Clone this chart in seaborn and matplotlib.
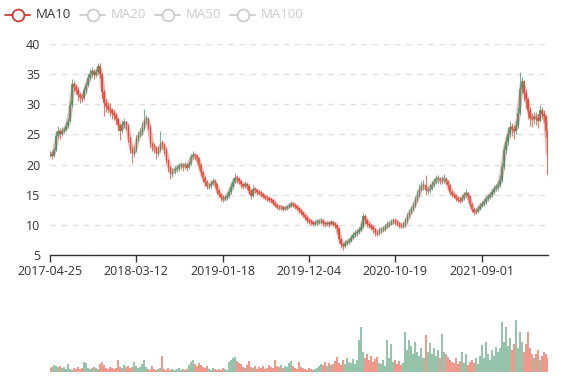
import numpy as np
import pandas as pd
import matplotlib
matplotlib.use("Agg")
import matplotlib.pyplot as plt
from matplotlib.lines import Line2D
import seaborn as sns

# ---------------- data ----------------
tick_labels = ["2017-04-25", "2018-03-12", "2019-01-18", "2019-12-04", "2020-10-19", "2021-09-01"]
tick_index = [0, 43, 86, 129, 172, 215]
legend_names = ["MA10", "MA20", "MA50", "MA100"]
legend_active = [True, False, False, False]

first_open = 21.5
closes = [
    21.8, 21.5, 22.4, 24.8, 25.6, 25.1, 25.6, 25.8, 26.4, 27.3,
    29.8, 33.4, 32.9, 32.4, 31.6, 31.2, 31.0, 32.3, 33.2, 34.4,
    35.1, 35.5, 34.8, 35.4, 36.4, 35.0, 32.0, 30.2, 29.7, 29.2,
    29.0, 28.6, 28.3, 27.5, 26.5, 25.5, 26.6, 27.1, 26.5, 24.5,
    22.6, 21.8, 22.4, 24.2, 24.9, 25.2, 26.0, 27.4, 27.6, 26.3,
    23.4, 23.0, 22.7, 21.8, 22.4, 23.5, 23.3, 22.5, 20.8, 19.6,
    18.5, 18.9, 19.2, 19.4, 19.7, 19.9, 19.7, 20.0, 19.5, 20.1,
    21.2, 21.6, 21.4, 21.1, 20.0, 18.8, 17.8, 17.1, 16.4, 16.5,
    16.8, 17.3, 16.9, 15.7, 15.1, 14.6, 14.3, 14.5, 14.8, 15.5,
    16.3, 17.1, 17.8, 17.6, 17.3, 16.7, 16.4, 16.8, 16.5, 15.6,
    14.8, 15.9, 15.8, 15.4, 15.3, 15.1, 14.8, 14.5, 14.4, 14.2,
    14.1, 13.7, 13.3, 13.0, 12.9, 12.9, 12.7, 12.8, 12.9, 13.2,
    13.5, 13.3, 13.1, 12.8, 12.4, 12.1, 11.7, 11.3, 10.8, 10.6,
    10.4, 10.2, 10.3, 10.5, 10.6, 10.7, 10.3, 10.1, 10.3, 10.2,
    10.4, 10.2, 9.9, 9.4, 7.6, 6.8, 6.5, 7.0, 7.2, 7.4,
    7.9, 8.3, 8.6, 8.8, 9.2, 9.6, 11.5, 10.8, 10.2, 9.9,
    9.6, 9.3, 8.7, 8.6, 9.1, 9.2, 9.3, 9.7, 10.0, 10.2,
    10.4, 10.7, 10.5, 10.3, 9.9, 9.8, 9.9, 10.6, 11.4, 12.1,
    12.6, 13.2, 14.1, 15.0, 16.0, 16.4, 16.6, 15.8, 15.8, 16.0,
    16.6, 17.1, 17.6, 17.6, 17.4, 17.4, 17.6, 17.3, 16.6, 15.5,
    15.1, 14.9, 14.5, 14.2, 14.0, 14.4, 14.9, 15.3, 14.8, 13.5,
    12.6, 12.1, 12.3, 12.6, 13.2, 13.5, 13.8, 14.3, 14.7, 14.9,
    15.4, 16.0, 16.2, 16.6, 17.4, 19.6, 22.4, 23.8, 25.1, 26.3,
    25.9, 25.5, 26.4, 28.6, 32.6, 33.8, 31.9, 30.8, 28.9, 27.8,
    27.5, 27.9, 27.8, 27.3, 29.0, 28.4, 28.0, 25.5, 18.2,
]
highs = [
    22.3, 22.2, 22.8, 25.6, 26.4, 26.0, 26.2, 26.3, 27.0, 27.8,
    30.5, 34.2, 33.9, 33.3, 32.8, 31.9, 31.7, 32.8, 33.7, 35.0,
    35.9, 36.2, 35.8, 35.9, 36.9, 36.8, 35.2, 32.3, 30.8, 30.3,
    30.2, 29.4, 29.0, 28.6, 27.8, 26.8, 27.4, 27.8, 27.3, 26.7,
    24.6, 22.9, 23.0, 24.9, 25.6, 26.0, 27.0, 29.2, 28.3, 27.9,
    26.5, 23.8, 23.5, 23.0, 23.0, 25.5, 24.0, 23.6, 22.7, 21.0,
    19.8, 19.4, 19.7, 19.9, 20.2, 20.4, 20.3, 20.5, 20.3, 20.6,
    21.8, 22.3, 22.0, 21.8, 21.3, 20.2, 19.0, 18.1, 17.4, 17.0,
    17.3, 17.8, 17.6, 17.0, 15.9, 15.3, 14.9, 15.0, 15.3, 16.0,
    16.9, 17.8, 18.6, 18.2, 17.9, 17.5, 17.0, 17.3, 17.0, 16.7,
    15.9, 16.6, 16.3, 16.0, 15.8, 15.6, 15.3, 15.0, 14.9, 14.7,
    14.5, 14.3, 13.9, 13.5, 13.3, 13.3, 13.1, 13.2, 13.3, 13.6,
    13.9, 13.8, 13.6, 13.3, 12.9, 12.6, 12.2, 11.8, 11.4, 11.1,
    10.9, 10.7, 10.8, 11.0, 11.0, 11.1, 10.9, 10.5, 10.7, 10.6,
    10.8, 10.6, 10.4, 10.0, 9.5, 7.8, 7.0, 7.5, 7.7, 7.9,
    8.4, 8.8, 9.1, 9.3, 9.7, 10.5, 11.9, 11.8, 11.0, 10.5,
    10.2, 9.9, 9.5, 9.1, 9.6, 9.7, 9.8, 10.2, 10.6, 10.7,
    10.9, 11.2, 11.1, 10.8, 10.5, 10.3, 10.4, 11.1, 12.0, 12.7,
    13.2, 13.8, 14.8, 15.8, 16.8, 17.2, 17.5, 18.2, 16.5, 16.7,
    17.3, 17.8, 18.3, 18.2, 18.0, 18.1, 18.4, 18.0, 17.5, 16.8,
    15.8, 15.5, 15.1, 14.8, 14.6, 14.9, 15.4, 15.9, 15.5, 15.0,
    13.7, 12.8, 12.8, 13.1, 13.7, 14.0, 14.3, 14.8, 15.2, 15.4,
    15.9, 16.6, 16.8, 17.2, 18.2, 20.3, 23.2, 24.8, 26.2, 27.3,
    26.9, 26.6, 27.4, 29.6, 35.3, 34.6, 34.0, 32.6, 31.0, 29.6,
    28.6, 28.8, 28.7, 28.4, 29.8, 29.5, 29.0, 28.3, 25.8,
]
lows = [
    21.2, 21.0, 21.3, 22.2, 24.5, 24.3, 24.8, 25.2, 25.5, 26.1,
    27.0, 29.5, 32.2, 31.7, 30.6, 30.2, 30.3, 30.7, 31.9, 33.0,
    34.0, 34.6, 34.2, 34.5, 35.0, 34.4, 31.0, 28.0, 28.8, 28.5,
    28.0, 27.6, 27.4, 26.7, 25.6, 24.1, 25.2, 26.1, 25.8, 23.8,
    22.0, 20.3, 21.3, 22.1, 23.9, 24.6, 24.9, 25.7, 26.8, 25.9,
    22.8, 22.3, 22.0, 20.9, 21.4, 22.1, 22.5, 21.8, 20.2, 18.7,
    17.6, 17.9, 18.5, 18.8, 19.0, 19.3, 19.0, 19.3, 19.0, 19.2,
    19.9, 21.0, 20.8, 20.4, 19.2, 18.2, 17.1, 16.5, 15.9, 15.9,
    16.1, 16.6, 16.3, 15.2, 14.6, 14.0, 13.8, 13.9, 14.2, 14.5,
    15.2, 16.0, 16.9, 17.0, 16.8, 16.1, 15.9, 16.1, 15.9, 15.1,
    14.3, 14.6, 15.3, 15.0, 14.9, 14.7, 14.4, 14.1, 14.0, 13.8,
    13.6, 13.3, 12.9, 12.6, 12.5, 12.5, 12.3, 12.4, 12.5, 12.8,
    13.0, 12.9, 12.7, 12.4, 12.0, 11.7, 11.3, 10.8, 10.3, 10.1,
    10.0, 9.8, 9.8, 10.0, 10.1, 10.2, 9.8, 9.6, 9.8, 9.7,
    9.9, 9.8, 9.4, 8.6, 7.0, 6.1, 5.9, 6.2, 6.6, 6.8,
    7.1, 7.6, 8.0, 8.2, 8.5, 9.0, 9.4, 10.2, 9.6, 9.4,
    9.1, 8.7, 8.2, 8.1, 8.3, 8.7, 8.8, 9.0, 9.4, 9.7,
    9.9, 10.1, 10.0, 9.8, 9.4, 9.4, 9.4, 9.7, 10.3, 11.1,
    11.8, 12.3, 12.9, 13.8, 14.7, 15.6, 15.8, 15.0, 15.1, 15.3,
    15.7, 16.2, 16.8, 16.9, 16.8, 16.8, 17.0, 16.7, 16.0, 15.0,
    14.6, 14.4, 14.0, 13.8, 13.6, 13.8, 14.2, 14.6, 14.3, 13.1,
    12.2, 11.7, 11.8, 12.0, 12.4, 12.9, 13.2, 13.5, 14.0, 14.3,
    14.6, 15.1, 15.6, 15.8, 16.3, 17.1, 19.3, 21.9, 23.2, 24.5,
    24.8, 24.2, 25.0, 26.0, 28.3, 31.8, 30.6, 29.4, 27.6, 26.4,
    26.2, 26.8, 26.6, 26.1, 27.0, 27.6, 27.1, 24.6, 17.6,
]
volumes = [
    4, 5, 7, 6, 5, 6, 4, 5,
    3, 8, 3, 2, 4, 3, 5, 3, 4, 10,
    9, 4, 3, 4, 5, 4, 3,
    8, 10, 7, 4, 3, 5, 4, 3, 4,
    12, 5, 4, 7, 5, 6, 4,
    5, 10, 6, 4, 5, 8, 12, 5,
    3, 2, 6, 3, 2, 3, 4,
    16, 3, 2, 4, 2, 3, 2, 3, 4, 2, 3, 2, 3,
    7, 10, 12, 8, 6, 9, 7, 5, 4, 6,
    3, 2, 4, 3, 2, 3, 2, 4, 3, 2,
    10, 12, 14, 15, 11, 9, 8,
    5, 4, 7, 11, 5, 4, 6, 3, 5, 4, 6, 3, 4, 7, 5, 4, 12, 6,
    5, 7, 4, 6, 5, 9,
    11, 6, 4, 3, 10, 5, 4, 3, 2, 4, 3, 2, 3, 4,
    6, 8, 7, 10, 6, 9, 7, 8, 11, 15, 9, 7, 12, 8, 14, 10, 9, 13, 8, 12,
    32, 45,
    20, 14, 18, 12, 16, 10, 13, 15,
    9, 8, 12, 6, 32, 14, 28, 10, 12, 8, 11, 7, 9,
    40, 22, 32, 26, 18, 30, 20, 16, 24, 14,
    37, 20, 29, 18, 24, 16, 22, 14, 38, 20, 18, 15,
    12, 10, 9, 14, 8, 11, 20, 9, 18, 7, 10, 12, 9, 14, 8,
    16, 27, 14, 30, 18, 12, 22, 16, 25, 20,
    24, 50, 30, 45, 26, 34, 22, 28, 52, 24, 40, 30, 20, 28, 40, 24, 18,
    14, 18, 22, 12, 16, 20, 18, 14,
]

# ---------------- styling ----------------
UP = "#3f9466"
DOWN = "#e0452e"
MA_COLOR = "#d23a32"

sns.set_theme(style="white")
plt.rcParams["font.family"] = ["Open Sans", "DejaVu Sans"]

W, H = 577, 380
fig = plt.figure(figsize=(W / 100, H / 100), dpi=100)
ax = fig.add_axes([50 / W, (H - 255) / H, 498 / W, 211 / H])
axv = fig.add_axes([50 / W, (H - 372) / H, 498 / W, 72 / H])

n = len(closes)
opens = [first_open] + closes[:-1]
df = pd.DataFrame({"i": np.arange(n), "open": opens, "close": closes,
                   "high": highs, "low": lows, "volume": volumes})
df["dir"] = np.where(df["close"] >= df["open"], "up", "down")
df["lo"] = df[["open", "close"]].min(axis=1)
df["body"] = (df["close"] - df["open"]).abs().clip(lower=0.12)
df["ma10"] = df["close"].rolling(2, min_periods=1).mean()
colors = df["dir"].map({"up": UP, "down": DOWN}).tolist()

# grid
ax.set_ylim(5, 40)
ax.set_xlim(0, n - 1)
ax.set_yticks(np.arange(5, 41, 5))
ax.yaxis.grid(True, color="#e0e0e0", linestyle=(0, (4, 4)), linewidth=1)
ax.set_axisbelow(True)

# MA10 (soft band under the candles)
sns.lineplot(data=df, x="i", y="ma10", ax=ax, color="#e87070", linewidth=3.2,
             alpha=0.55, zorder=2, legend=False)
# candles: wicks + bodies
ax.vlines(df["i"], df["low"], df["high"], colors=colors, linewidth=0.8, alpha=0.7, zorder=3)
ax.bar(df["i"], df["body"], bottom=df["lo"], width=0.8, color=colors,
       linewidth=0, alpha=0.8, zorder=3)

ax.set_xlabel("")
ax.set_ylabel("")
for s in ["left", "right", "top"]:
    ax.spines[s].set_visible(False)
ax.spines["bottom"].set_color("#333333")
ax.spines["bottom"].set_linewidth(1)
ax.set_xticks(tick_index)
ax.set_xticklabels(tick_labels)
ax.tick_params(axis="x", length=5, width=1, color="#333333", pad=2,
               labelsize=9, labelcolor="#333333", bottom=True)
ax.tick_params(axis="y", length=0, pad=7, labelsize=9, labelcolor="#333333")

# volume
axv.bar(df["i"], df["volume"], width=1.0, color=colors, alpha=0.55, linewidth=0)
axv.set_xlim(0, n - 1)
axv.set_ylim(0, 72)
axv.axis("off")

# legend (top-left)
ly = 1 - 15 / H
for k, (name, act) in enumerate(zip(legend_names, legend_active)):
    x0 = 5 + 75 * k
    col = MA_COLOR if act else "#cccccc"
    fig.add_artist(Line2D([x0 / W, (x0 + 25) / W], [ly, ly], transform=fig.transFigure,
                          color=col, linewidth=1.3))
    fig.add_artist(Line2D([(x0 + 12.5) / W], [ly], transform=fig.transFigure,
                          marker="o", markersize=8.5, markerfacecolor="white",
                          markeredgecolor=col, markeredgewidth=1.3, linestyle="none"))
    fig.text((x0 + 31) / W, ly, name, fontsize=9.5, color="#333333" if act else "#cccccc",
             va="center", ha="left")

fig.savefig("out.png", dpi=100)
